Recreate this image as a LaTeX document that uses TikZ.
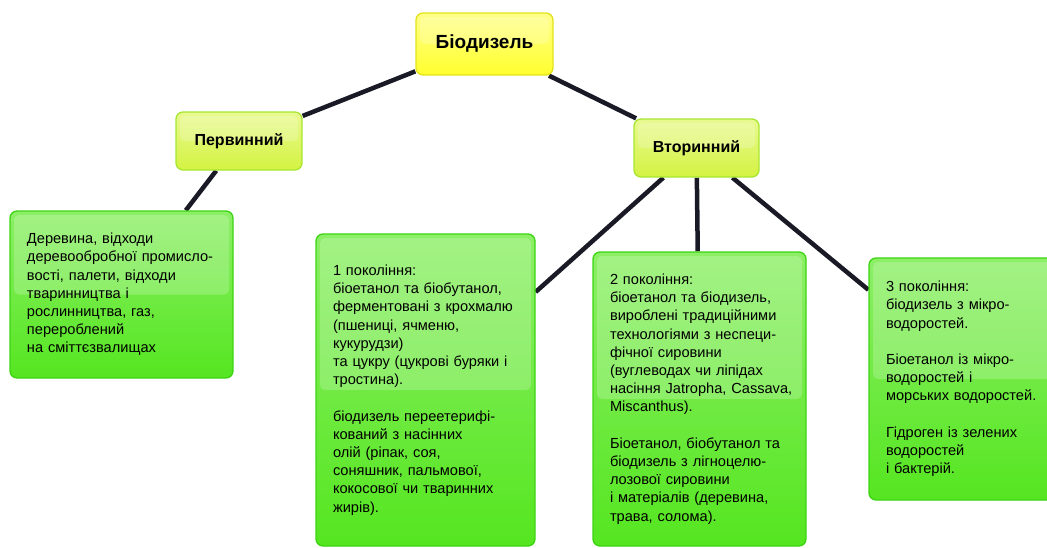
\documentclass[tikz,border=0pt]{standalone}
\usepackage{fontspec}
\setmainfont{Liberation Sans}
\usetikzlibrary{backgrounds}
\definecolor{rootfill}{HTML}{FFFF2E}
\definecolor{roottop}{HTML}{FFFF8A}
\definecolor{rootedge}{HTML}{E2E21C}
\definecolor{kindfill}{HTML}{D4F242}
\definecolor{kindtop}{HTML}{E8FA90}
\definecolor{kindedge}{HTML}{A8E632}
\definecolor{genfill}{HTML}{55E620}
\definecolor{gentop}{HTML}{8CEF66}
\definecolor{genedge}{HTML}{3DD414}
\definecolor{linkcol}{HTML}{1A1A26}
\begin{document}
\begin{tikzpicture}
  [x=1pt,y=-1pt,
   box/.style={rounded corners=7pt,line width=1.3pt,inner ysep=0pt,
     path picture={\fill[white,opacity=.2,rounded corners=5pt]
       ([shift={(4pt,-4pt)}]path picture bounding box.north west)
       rectangle ([xshift=-4pt]path picture bounding box.east);}},
   head/.style={box,draw=rootedge,top color=roottop,bottom color=rootfill,
     font=\bfseries\fontsize{19}{22}\selectfont,minimum width=137pt,minimum height=62pt},
   kind/.style={box,draw=kindedge,top color=kindtop,bottom color=kindfill,
     font=\bfseries\fontsize{16}{19}\selectfont,minimum width=126pt,minimum height=58pt},
   gen/.style={box,draw=genedge,top color=gentop,bottom color=genfill,
     font=\fontsize{14.6}{18.2}\selectfont,align=left,inner xsep=17pt},
   link/.style={draw=linkcol,line width=4.5pt}]
  \useasboundingbox (0,0) rectangle (1047,547);
  \clip (0,0) rectangle (1047,547);
  \node[head] (bio) at (484.5,44) {Біодизель};
  \node[kind] (prim) at (239,141) {Первинний};
  \node[kind,minimum width=125pt] (sec) at (696.5,148) {Вторинний};
  \node[gen,text width=189pt,minimum height=167pt] (waste) at (121.5,294.5)
    {Деревина, відходи\\деревообробної промисло-\\вості, палети, відходи\\тваринництва і\\рослинництва, газ,\\перероблений\\на сміттєзвалищах};
  \node[gen,text width=185pt,minimum height=312pt] (first) at (425.5,390)
    {1 покоління:\\біоетанол та біобутанол,\\ферментовані з крохмалю\\(пшениці, ячменю,\\кукурудзи)\\та цукру (цукрові буряки і\\тростина).\\[18.2pt]біодизель переетерифі-\\кований з насінних\\олій (ріпак, соя,\\соняшник, пальмової,\\кокосової чи тваринних\\жирів).};
  \node[gen,text width=179pt,minimum height=294pt] (second) at (699.5,399)
    {2 покоління:\\біоетанол та біодизель,\\вироблені традиційними\\технологіями з неспеци-\\фічної сировини\\(вуглеводах чи ліпідах\\\mbox{насіння Jatropha, Cassava,}\\Miscanthus).\\[18.2pt]Біоетанол, біобутанол та\\біодизель з лігноцелю-\\лозової сировини\\і матеріалів (деревина,\\трава, солома).};
  \node[gen,text width=181pt,minimum height=242pt] (third) at (976.5,379)
    {3 покоління:\\біодизель з мікро-\\водоростей.\\[18.2pt]Біоетанол із мікро-\\водоростей і\\морських водоростей.\\[18.2pt]Гідроген із зелених\\водоростей\\і бактерій.};
  \begin{scope}[on background layer]
    \draw[link] (bio) to (prim) (bio) to (sec) (prim) to (waste);
    \draw[link] (sec) to (first) (sec) to (second) (sec) to (third);
  \end{scope}
\end{tikzpicture}
\end{document}
